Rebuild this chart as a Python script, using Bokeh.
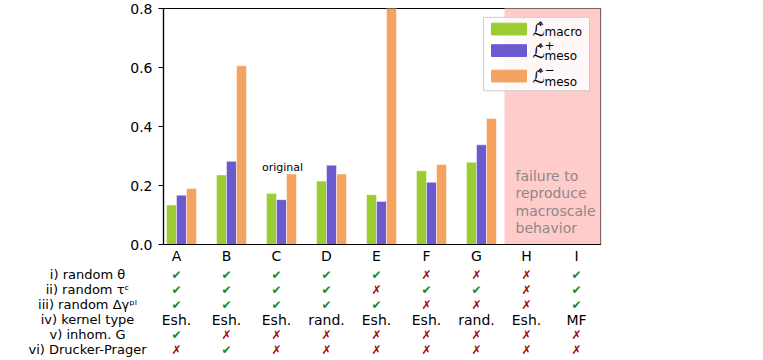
from bokeh.plotting import figure
from bokeh.models import Range1d, FixedTicker, PrintfTickFormatter
from bokeh.layouts import column
from bokeh.core.properties import value
from bokeh.embed import file_html
from bokeh.resources import INLINE

# ---------------- data ----------------
cases = ["A", "B", "C", "D", "E", "F", "G", "H", "I"]
bar_cases = ["A", "B", "C", "D", "E", "F", "G"]
L_macro = [0.134, 0.236, 0.173, 0.215, 0.169, 0.250, 0.279]
L_meso_plus = [0.167, 0.282, 0.152, 0.269, 0.146, 0.211, 0.338]
L_meso_minus = [0.190, 0.606, 0.239, 0.239, 0.950, 0.271, 0.427]
y_ticks = [0.0, 0.2, 0.4, 0.6, 0.8]

row_labels = ["i) random θ", "ii) random τᶜ", "iii) random Δγᵖˡ",
              "iv) kernel type", "v) inhom. G", "vi) Drucker-Prager"]
random_theta = [1, 1, 1, 1, 1, 0, 0, 0, 1]
random_tau = [1, 1, 1, 1, 0, 1, 1, 0, 1]
random_dgamma = [1, 1, 1, 1, 1, 0, 0, 0, 1]
kernel_type = ["Esh.", "Esh.", "Esh.", "rand.", "Esh.", "Esh.", "rand.", "Esh.", "MF"]
inhom_G = [1, 0, 0, 0, 0, 0, 0, 0, 0]
drucker_prager = [0, 1, 0, 0, 0, 0, 0, 0, 0]
failure_start = "H"

# ---------------- style ----------------
FONT = value("DejaVu Sans")
C_GREEN = "#9acd32"
C_PURPLE = "#6a5acd"
C_ORANGE = "#f4a460"
C_CHECK = "#1f8a1f"
C_CROSS = "#a30000"

W = 740
idx = {c: i for i, c in enumerate(cases)}
xb = [idx[c] for c in bar_cases]

# top (bar) figure
TOP_H = 266
p = figure(width=W, height=TOP_H, x_range=Range1d(-0.26, 8.48), y_range=Range1d(0, 0.8),
           output_backend="svg", toolbar_location=None, frame_align=False,
           min_border_left=163, min_border_right=W - 600, min_border_top=8, min_border_bottom=20)
p.xgrid.visible = False
p.ygrid.visible = False
p.outline_line_color = "black"
p.outline_line_width = 1.2
p.background_fill_color = "white"
p.border_fill_color = "white"

# failure region
p.quad(left=[idx[failure_start] - 0.44], right=[9], bottom=[0], top=[1],
       fill_color="#ffcccc", line_color=None)

# bars
bar_kw = dict(width=0.2, line_color="white", line_alpha=0.6, line_width=0.8)
p.vbar(x=[i - 0.1 for i in xb], top=L_macro, fill_color=C_GREEN, **bar_kw)
p.vbar(x=[i + 0.1 for i in xb], top=L_meso_plus, fill_color=C_PURPLE, **bar_kw)
p.vbar(x=[i + 0.3 for i in xb], top=L_meso_minus, fill_color=C_ORANGE, **bar_kw)

# axes
p.yaxis.ticker = FixedTicker(ticks=y_ticks)
p.yaxis.formatter = PrintfTickFormatter(format="%.1f")
p.yaxis.major_label_text_font = "DejaVu Sans"
p.yaxis.major_label_text_font_size = "14px"
p.yaxis.major_label_text_color = "black"
p.yaxis.major_tick_out = 5
p.yaxis.major_tick_in = 0
p.yaxis.minor_tick_line_color = None
p.yaxis.major_label_standoff = 6
p.yaxis.axis_line_color = "black"
p.yaxis.axis_line_width = 1.2

p.xaxis.ticker = FixedTicker(ticks=list(range(len(cases))))
p.xaxis.major_label_overrides = {i: c for i, c in enumerate(cases)}
p.xaxis.major_label_text_font = "DejaVu Sans"
p.xaxis.major_label_text_font_size = "14px"
p.xaxis.major_label_text_color = "black"
p.xaxis.major_tick_out = 0
p.xaxis.major_tick_in = 0
p.xaxis.minor_tick_line_color = None
p.xaxis.major_label_standoff = 3
p.xaxis.axis_line_color = "black"
p.xaxis.axis_line_width = 1.2

# helpers (reference pixel -> data) for annotation placement
def dx(px):
    return (px - 177) / 50.0

def dy(py):
    return (247 - py) / 301.25

# "original" annotation above C
p.text(x=[dx(283)], y=[dy(168)], text=["original"], text_font=FONT,
       text_font_size="11px", text_align="center", text_baseline="middle", text_color="black")

# failure text
fail_lines = ["failure to", "reproduce", "macroscale", "behavior"]
p.text(x=[dx(516)] * 4, y=[dy(177 + 17.7 * k) for k in range(4)], text=fail_lines,
       text_font=FONT, text_font_size="14px", text_align="left", text_baseline="middle",
       text_color="#8f8787")

# legend (manual, for math-style labels)
p.quad(left=[dx(484)], right=[dx(590)], top=[dy(15)], bottom=[dy(90)],
       fill_color="white", fill_alpha=0.85, line_color="#cccccc", line_width=1)
leg_colors = [C_GREEN, C_PURPLE, C_ORANGE]
leg_centers = [27, 49, 75]
for col, cy in zip(leg_colors, leg_centers):
    p.quad(left=[dx(492)], right=[dx(527)], top=[dy(cy - 6)], bottom=[dy(cy + 6)],
           fill_color=col, line_color=col)
p.text(x=[dx(533)] * 3, y=[dy(c + 1) for c in leg_centers], text=["ℒ̂"] * 3,
       text_font=FONT, text_font_size="17px", text_align="left", text_baseline="middle",
       text_color="black")
p.text(x=[dx(545)] * 3, y=[dy(leg_centers[0] + 3), dy(leg_centers[1] + 6), dy(leg_centers[2] + 6)],
       text=["macro", "meso", "meso"], text_font=FONT, text_font_size="12px",
       text_align="left", text_baseline="middle", text_color="black")
p.text(x=[dx(545)] * 2, y=[dy(leg_centers[1] - 5), dy(leg_centers[2] - 7)],
       text=["+", "−"], text_font=FONT, text_font_size="12px",
       text_align="left", text_baseline="middle", text_color="black")

# bottom (table) figure
n_rows = len(row_labels)
TH = 91
ROW0 = 8.0
ROWSTEP = 15.0
t = figure(width=W, height=TH, x_range=Range1d(-176 / 50.0, (W - 176) / 50.0),
           y_range=Range1d((TH - ROW0) / ROWSTEP, -ROW0 / ROWSTEP), frame_align=False,
           output_backend="svg", toolbar_location=None, min_border=0,
           x_axis_location=None, y_axis_location=None)
t.xgrid.visible = False
t.ygrid.visible = False
t.outline_line_color = None

t.text(x=[dx(88)] * n_rows, y=list(range(n_rows)), text=row_labels, text_font=FONT,
       text_font_size="13px", text_align="center", text_baseline="middle", text_color="black")

bool_rows = {0: random_theta, 1: random_tau, 2: random_dgamma, 4: inhom_G, 5: drucker_prager}
xs, ys, txt, cols = [], [], [], []
for r, vals in bool_rows.items():
    for i, v in enumerate(vals):
        xs.append(i)
        ys.append(r)
        txt.append("✔" if v else "✗")
        cols.append(C_CHECK if v else C_CROSS)
t.text(x=xs, y=ys, text=txt, text_color=cols, text_font=FONT, text_font_size="12px",
       text_align="center", text_baseline="middle")
t.text(x=list(range(len(cases))), y=[3] * len(cases), text=kernel_type, text_font=FONT,
       text_font_size="14px", text_align="center", text_baseline="middle", text_color="black")

layout = column(p, t, spacing=0)
open("out.html", "w").write(file_html(layout, INLINE))
